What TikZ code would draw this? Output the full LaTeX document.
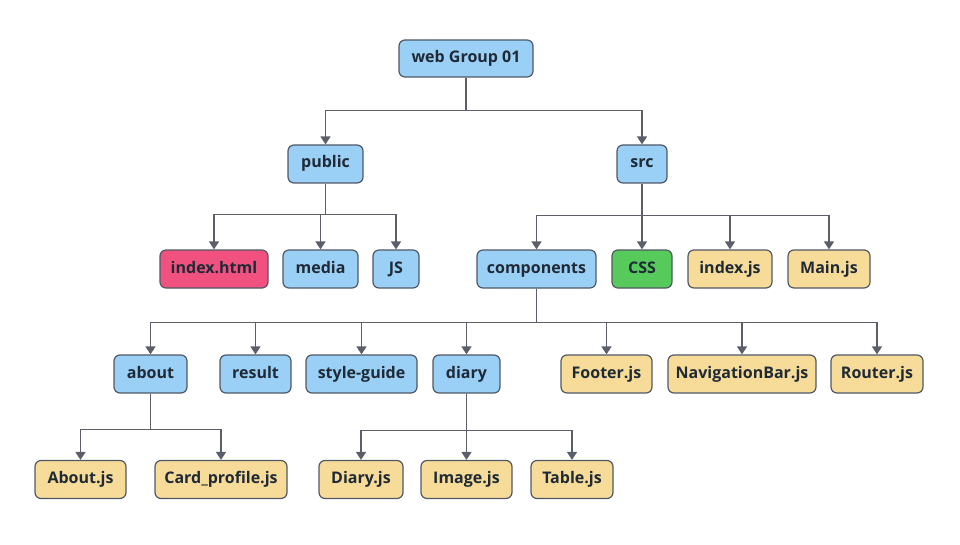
\documentclass[tikz,border=0pt]{standalone}
\usepackage{fontspec}
\setmainfont{Open Sans}
\usetikzlibrary{arrows.meta}

\definecolor{folderblue}{HTML}{9ACFF6}
\definecolor{htmlpink}{HTML}{F0517E}
\definecolor{cssgreen}{HTML}{56CA5B}
\definecolor{fileyellow}{HTML}{F6DC98}
\definecolor{edgegray}{HTML}{505866}
\definecolor{linegray}{HTML}{5C5F6B}
\definecolor{textdark}{HTML}{1F2A36}

\begin{document}
\begin{tikzpicture}[x=1pt,y=-1pt]
\tikzset{
  box/.style={draw=edgegray, line width=1.2pt, rounded corners=6pt,
    minimum height=38pt, inner sep=0pt, text=textdark,
    text height=12pt, text depth=4pt,
    font=\fontsize{16}{19}\selectfont\bfseries},
  folder/.style={box, fill=folderblue},
  file/.style={box, fill=fileyellow},
  link/.style={draw=linegray, line width=1.5pt,
    -{Triangle[width=10pt, length=8pt]}}
}
\useasboundingbox (0,0) rectangle (960,545);

% level 0 and 1
\node[folder, minimum width=134, minimum height=37] (root) at (466,58.5) {web Group 01};
\node[folder, minimum width=75] (public) at (325.5,164) {public};
\node[folder, minimum width=50] (src)    at (642,164)   {src};

% level 2
\node[box, fill=htmlpink, minimum width=108] (indexhtml) at (214,269) {index.html};
\node[folder, minimum width=75]  (media)      at (320.5,269) {media};
\node[folder, minimum width=46]  (js)         at (396,269)   {JS};
\node[folder, minimum width=119] (components) at (536.5,269) {components};
\node[box, fill=cssgreen, minimum width=60] (css) at (642,269) {CSS};
\node[file, minimum width=84]    (indexjs)    at (730,269)   {index.js};
\node[file, minimum width=82]    (mainjs)     at (829,269)   {Main.js};

% level 3
\node[folder, minimum width=73]  (about)      at (150.5,374) {about};
\node[folder, minimum width=71]  (result)     at (255.5,374) {result};
\node[folder, minimum width=111] (styleguide) at (361.5,374) {style-guide};
\node[folder, minimum width=67]  (diary)      at (466.5,374) {diary};
\node[file, minimum width=91]    (footer)     at (606.5,374) {Footer.js};
\node[file, minimum width=148]   (navbar)     at (742,374)   {NavigationBar.js};
\node[file, minimum width=92]    (router)     at (877,374)   {Router.js};

% level 4
\node[file, minimum width=91]  (aboutjs)     at (80.5,479.5) {About.js};
\node[file, minimum width=132] (cardprofile) at (221,479.5)  {Card\_profile.js};
\node[file, minimum width=84]  (diaryjs)     at (361,479.5)  {Diary.js};
\node[file, minimum width=91]  (imagejs)     at (466.5,479.5) {Image.js};
\node[file, minimum width=82]  (tablejs)     at (572,479.5)  {Table.js};

% connectors
\foreach \kid in {public,src}
  \draw[link] (root.south) -- ++(0,33) -| (\kid.north);
\foreach \kid in {indexhtml,media,js}
  \draw[link] (public.south) -- ++(0,31) -| (\kid.north);
\foreach \kid in {components,css,indexjs,mainjs}
  \draw[link] (src.south) -- ++(0,32) -| (\kid.north);
\foreach \kid in {about,result,styleguide,diary,footer,navbar,router}
  \draw[link] (components.south) -- ++(0,34) -| (\kid.north);
\foreach \kid in {aboutjs,cardprofile}
  \draw[link] (about.south) -- ++(0,36) -| (\kid.north);
\foreach \kid in {diaryjs,imagejs,tablejs}
  \draw[link] (diary.south) -- ++(0,37) -| (\kid.north);
\end{tikzpicture}
\end{document}
